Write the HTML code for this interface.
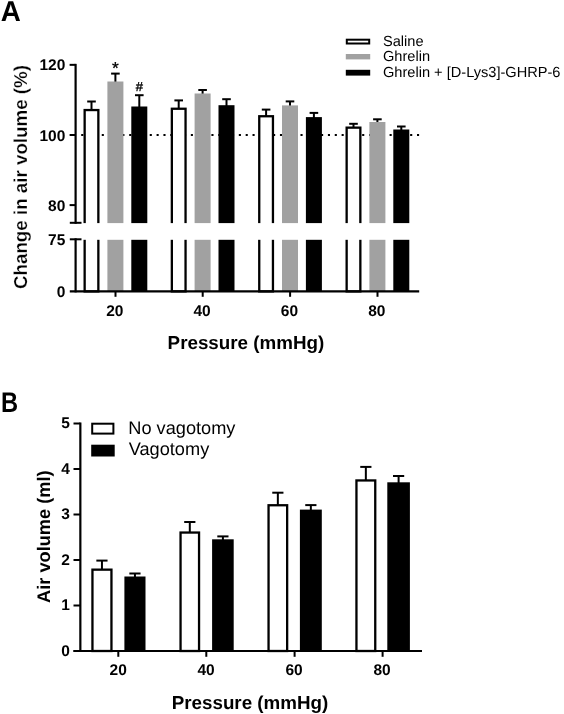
<!DOCTYPE html>
<html><head><meta charset="utf-8"><title>Figure</title>
<style>
html,body{margin:0;padding:0;background:#fff;}
body{width:564px;height:714px;overflow:hidden;font-family:"Liberation Sans",sans-serif;}
svg{display:block;filter:grayscale(1);}
text{text-rendering:geometricPrecision;}
</style></head><body>
<svg width="564" height="714" viewBox="0 0 564 714">
<rect x="0" y="0" width="564" height="714" fill="#fff"/>
<line x1="81.2" y1="135" x2="419.3" y2="135" stroke="#000" stroke-width="2" stroke-dasharray="2.1 4.753"/>
<line x1="91.50" y1="101.50" x2="91.50" y2="109.90" stroke="#000" stroke-width="2"/>
<line x1="87.20" y1="101.50" x2="95.80" y2="101.50" stroke="#000" stroke-width="2"/>
<rect x="84.65" y="110.05" width="13.70" height="181.35" fill="#fff" stroke="#000" stroke-width="2.3"/>
<line x1="115.40" y1="73.60" x2="115.40" y2="82.50" stroke="#000" stroke-width="2"/>
<line x1="111.10" y1="73.60" x2="119.70" y2="73.60" stroke="#000" stroke-width="2"/>
<rect x="107.40" y="81.50" width="16.00" height="209.90" fill="#a1a1a1"/>
<line x1="139.30" y1="95.20" x2="139.30" y2="107.50" stroke="#000" stroke-width="2"/>
<line x1="135.00" y1="95.20" x2="143.60" y2="95.20" stroke="#000" stroke-width="2"/>
<rect x="131.30" y="106.50" width="16.00" height="184.90" fill="#000"/>
<line x1="178.70" y1="100.40" x2="178.70" y2="108.60" stroke="#000" stroke-width="2"/>
<line x1="174.40" y1="100.40" x2="183.00" y2="100.40" stroke="#000" stroke-width="2"/>
<rect x="171.85" y="108.75" width="13.70" height="182.65" fill="#fff" stroke="#000" stroke-width="2.3"/>
<line x1="202.60" y1="90.00" x2="202.60" y2="94.50" stroke="#000" stroke-width="2"/>
<line x1="198.30" y1="90.00" x2="206.90" y2="90.00" stroke="#000" stroke-width="2"/>
<rect x="194.60" y="93.50" width="16.00" height="197.90" fill="#a1a1a1"/>
<line x1="226.50" y1="99.20" x2="226.50" y2="106.20" stroke="#000" stroke-width="2"/>
<line x1="222.20" y1="99.20" x2="230.80" y2="99.20" stroke="#000" stroke-width="2"/>
<rect x="218.50" y="105.20" width="16.00" height="186.20" fill="#000"/>
<line x1="266.10" y1="109.60" x2="266.10" y2="116.10" stroke="#000" stroke-width="2"/>
<line x1="261.80" y1="109.60" x2="270.40" y2="109.60" stroke="#000" stroke-width="2"/>
<rect x="259.25" y="116.25" width="13.70" height="175.15" fill="#fff" stroke="#000" stroke-width="2.3"/>
<line x1="290.00" y1="101.40" x2="290.00" y2="106.40" stroke="#000" stroke-width="2"/>
<line x1="285.70" y1="101.40" x2="294.30" y2="101.40" stroke="#000" stroke-width="2"/>
<rect x="282.00" y="105.40" width="16.00" height="186.00" fill="#a1a1a1"/>
<line x1="313.90" y1="112.90" x2="313.90" y2="118.10" stroke="#000" stroke-width="2"/>
<line x1="309.60" y1="112.90" x2="318.20" y2="112.90" stroke="#000" stroke-width="2"/>
<rect x="305.90" y="117.10" width="16.00" height="174.30" fill="#000"/>
<line x1="353.50" y1="123.80" x2="353.50" y2="127.50" stroke="#000" stroke-width="2"/>
<line x1="349.20" y1="123.80" x2="357.80" y2="123.80" stroke="#000" stroke-width="2"/>
<rect x="346.65" y="127.65" width="13.70" height="163.75" fill="#fff" stroke="#000" stroke-width="2.3"/>
<line x1="377.40" y1="119.30" x2="377.40" y2="123.00" stroke="#000" stroke-width="2"/>
<line x1="373.10" y1="119.30" x2="381.70" y2="119.30" stroke="#000" stroke-width="2"/>
<rect x="369.40" y="122.00" width="16.00" height="169.40" fill="#a1a1a1"/>
<line x1="401.30" y1="126.50" x2="401.30" y2="130.50" stroke="#000" stroke-width="2"/>
<line x1="397.00" y1="126.50" x2="405.60" y2="126.50" stroke="#000" stroke-width="2"/>
<rect x="393.30" y="129.50" width="16.00" height="161.90" fill="#000"/>
<rect x="66" y="223.10" width="360" height="16.70" fill="#fff"/>
<line x1="75.6" y1="63.85" x2="75.6" y2="223.8" stroke="#000" stroke-width="2.2"/>
<line x1="75.6" y1="238.3" x2="75.6" y2="292.4" stroke="#000" stroke-width="2.2"/>
<line x1="69.8" y1="222.8" x2="81.5" y2="222.8" stroke="#000" stroke-width="2"/>
<line x1="69.8" y1="239.3" x2="81.5" y2="239.3" stroke="#000" stroke-width="2"/>
<line x1="69.8" y1="291.4" x2="419.2" y2="291.4" stroke="#000" stroke-width="2.2"/>
<line x1="69.6" y1="64.85" x2="75.6" y2="64.85" stroke="#000" stroke-width="2"/>
<line x1="69.6" y1="135.0" x2="75.6" y2="135.0" stroke="#000" stroke-width="2"/>
<line x1="69.6" y1="205.1" x2="75.6" y2="205.1" stroke="#000" stroke-width="2"/>
<text x="65.3" y="70.10" text-anchor="end" font-family="Liberation Sans, sans-serif" font-weight="bold" font-size="15.5">120</text>
<text x="65.3" y="140.50" text-anchor="end" font-family="Liberation Sans, sans-serif" font-weight="bold" font-size="15.5">100</text>
<text x="65.3" y="210.60" text-anchor="end" font-family="Liberation Sans, sans-serif" font-weight="bold" font-size="15.5">80</text>
<text x="65.3" y="244.80" text-anchor="end" font-family="Liberation Sans, sans-serif" font-weight="bold" font-size="15.5">75</text>
<text x="65.3" y="296.90" text-anchor="end" font-family="Liberation Sans, sans-serif" font-weight="bold" font-size="15.5">0</text>
<line x1="115.50" y1="291.4" x2="115.50" y2="296.8" stroke="#000" stroke-width="2"/>
<text x="114.80" y="315.8" text-anchor="middle" font-family="Liberation Sans, sans-serif" font-weight="bold" font-size="15.5">20</text>
<line x1="202.70" y1="291.4" x2="202.70" y2="296.8" stroke="#000" stroke-width="2"/>
<text x="202.00" y="315.8" text-anchor="middle" font-family="Liberation Sans, sans-serif" font-weight="bold" font-size="15.5">40</text>
<line x1="290.10" y1="291.4" x2="290.10" y2="296.8" stroke="#000" stroke-width="2"/>
<text x="289.40" y="315.8" text-anchor="middle" font-family="Liberation Sans, sans-serif" font-weight="bold" font-size="15.5">60</text>
<line x1="377.50" y1="291.4" x2="377.50" y2="296.8" stroke="#000" stroke-width="2"/>
<text x="376.80" y="315.8" text-anchor="middle" font-family="Liberation Sans, sans-serif" font-weight="bold" font-size="15.5">80</text>
<text x="245.9" y="348.6" text-anchor="middle" font-family="Liberation Sans, sans-serif" font-weight="bold" font-size="18.8">Pressure (mmHg)</text>
<text transform="translate(27.3,177.0) rotate(-90)" text-anchor="middle" font-family="Liberation Sans, sans-serif" font-weight="bold" font-size="18.75" stroke="#fff" stroke-width="0.25">Change in air volume (%)</text>
<text transform="translate(0.8,20.7) scale(0.965,1)" font-family="Liberation Sans, sans-serif" font-weight="bold" font-size="28.8">A</text>
<text x="115.45" y="74.0" text-anchor="middle" font-family="Liberation Sans, sans-serif" font-size="17.4" stroke="#000" stroke-width="0.3">*</text>
<text x="139.4" y="90.8" text-anchor="middle" font-family="Liberation Sans, sans-serif" font-size="13" stroke="#000" stroke-width="0.35">#</text>
<rect x="346.8" y="39.7" width="22.4" height="3.8" fill="#fff" stroke="#000" stroke-width="2"/>
<rect x="345.8" y="54" width="24.4" height="5.4" fill="#a1a1a1"/>
<rect x="345.8" y="69.8" width="24.4" height="5.8" fill="#000"/>
<text x="383" y="45.80" font-family="Liberation Sans, sans-serif" font-size="14.6">Saline</text>
<text x="383" y="61.40" font-family="Liberation Sans, sans-serif" font-size="14.6">Ghrelin</text>
<text x="383" y="77.00" font-family="Liberation Sans, sans-serif" font-size="14.6">Ghrelin + [D-Lys3]-GHRP-6</text>
<line x1="101.95" y1="560.60" x2="101.95" y2="569.50" stroke="#000" stroke-width="2"/>
<line x1="96.35" y1="560.60" x2="107.55" y2="560.60" stroke="#000" stroke-width="2"/>
<rect x="92.45" y="569.65" width="19.00" height="81.35" fill="#fff" stroke="#000" stroke-width="2.3"/>
<line x1="189.80" y1="522.00" x2="189.80" y2="532.40" stroke="#000" stroke-width="2"/>
<line x1="184.20" y1="522.00" x2="195.40" y2="522.00" stroke="#000" stroke-width="2"/>
<rect x="180.55" y="532.55" width="18.50" height="118.45" fill="#fff" stroke="#000" stroke-width="2.3"/>
<line x1="277.85" y1="492.70" x2="277.85" y2="505.10" stroke="#000" stroke-width="2"/>
<line x1="272.25" y1="492.70" x2="283.45" y2="492.70" stroke="#000" stroke-width="2"/>
<rect x="268.55" y="505.25" width="18.60" height="145.75" fill="#fff" stroke="#000" stroke-width="2.3"/>
<line x1="365.85" y1="466.90" x2="365.85" y2="480.30" stroke="#000" stroke-width="2"/>
<line x1="360.25" y1="466.90" x2="371.45" y2="466.90" stroke="#000" stroke-width="2"/>
<rect x="356.45" y="480.45" width="18.80" height="170.55" fill="#fff" stroke="#000" stroke-width="2.3"/>
<line x1="134.95" y1="573.50" x2="134.95" y2="577.50" stroke="#000" stroke-width="2"/>
<line x1="129.35" y1="573.50" x2="140.55" y2="573.50" stroke="#000" stroke-width="2"/>
<rect x="124.40" y="576.50" width="21.10" height="74.50" fill="#000"/>
<line x1="222.90" y1="536.40" x2="222.90" y2="540.30" stroke="#000" stroke-width="2"/>
<line x1="217.30" y1="536.40" x2="228.50" y2="536.40" stroke="#000" stroke-width="2"/>
<rect x="212.10" y="539.30" width="21.60" height="111.70" fill="#000"/>
<line x1="310.85" y1="505.10" x2="310.85" y2="510.60" stroke="#000" stroke-width="2"/>
<line x1="305.25" y1="505.10" x2="316.45" y2="505.10" stroke="#000" stroke-width="2"/>
<rect x="299.90" y="509.60" width="21.90" height="141.40" fill="#000"/>
<line x1="398.60" y1="476.00" x2="398.60" y2="483.30" stroke="#000" stroke-width="2"/>
<line x1="393.00" y1="476.00" x2="404.20" y2="476.00" stroke="#000" stroke-width="2"/>
<rect x="387.30" y="482.30" width="22.60" height="168.70" fill="#000"/>
<line x1="80.35" y1="422.5" x2="80.35" y2="652.0" stroke="#000" stroke-width="2.2"/>
<line x1="73.5" y1="651.0" x2="422" y2="651.0" stroke="#000" stroke-width="2.2"/>
<line x1="73.5" y1="651.00" x2="80.35" y2="651.00" stroke="#000" stroke-width="2"/>
<text x="69.9" y="655.70" text-anchor="end" font-family="Liberation Sans, sans-serif" font-weight="bold" font-size="15.5">0</text>
<line x1="73.5" y1="605.50" x2="80.35" y2="605.50" stroke="#000" stroke-width="2"/>
<text x="69.9" y="610.20" text-anchor="end" font-family="Liberation Sans, sans-serif" font-weight="bold" font-size="15.5">1</text>
<line x1="73.5" y1="560.00" x2="80.35" y2="560.00" stroke="#000" stroke-width="2"/>
<text x="69.9" y="564.70" text-anchor="end" font-family="Liberation Sans, sans-serif" font-weight="bold" font-size="15.5">2</text>
<line x1="73.5" y1="514.50" x2="80.35" y2="514.50" stroke="#000" stroke-width="2"/>
<text x="69.9" y="519.20" text-anchor="end" font-family="Liberation Sans, sans-serif" font-weight="bold" font-size="15.5">3</text>
<line x1="73.5" y1="469.00" x2="80.35" y2="469.00" stroke="#000" stroke-width="2"/>
<text x="69.9" y="473.70" text-anchor="end" font-family="Liberation Sans, sans-serif" font-weight="bold" font-size="15.5">4</text>
<line x1="73.5" y1="423.50" x2="80.35" y2="423.50" stroke="#000" stroke-width="2"/>
<text x="69.9" y="428.20" text-anchor="end" font-family="Liberation Sans, sans-serif" font-weight="bold" font-size="15.5">5</text>
<line x1="118.3" y1="651.0" x2="118.3" y2="656.8" stroke="#000" stroke-width="2"/>
<text x="118.2" y="675.3" text-anchor="middle" font-family="Liberation Sans, sans-serif" font-weight="bold" font-size="15.5">20</text>
<line x1="206.3" y1="651.0" x2="206.3" y2="656.8" stroke="#000" stroke-width="2"/>
<text x="206.0" y="675.3" text-anchor="middle" font-family="Liberation Sans, sans-serif" font-weight="bold" font-size="15.5">40</text>
<line x1="294.6" y1="651.0" x2="294.6" y2="656.8" stroke="#000" stroke-width="2"/>
<text x="294.1" y="675.3" text-anchor="middle" font-family="Liberation Sans, sans-serif" font-weight="bold" font-size="15.5">60</text>
<line x1="382.6" y1="651.0" x2="382.6" y2="656.8" stroke="#000" stroke-width="2"/>
<text x="382.0" y="675.3" text-anchor="middle" font-family="Liberation Sans, sans-serif" font-weight="bold" font-size="15.5">80</text>
<text x="250" y="708.7" text-anchor="middle" font-family="Liberation Sans, sans-serif" font-weight="bold" font-size="18.8">Pressure (mmHg)</text>
<text transform="translate(50.2,536.7) rotate(-90)" text-anchor="middle" font-family="Liberation Sans, sans-serif" font-weight="bold" font-size="18.2">Air volume (ml)</text>
<text transform="translate(1.1,411.9) scale(0.83,1)" font-family="Liberation Sans, sans-serif" font-weight="bold" font-size="28.5">B</text>
<rect x="92.2" y="423.7" width="21.2" height="9.9" fill="#fff" stroke="#000" stroke-width="2"/>
<rect x="91.2" y="444.7" width="23.5" height="11.8" fill="#000"/>
<text x="128.3" y="434.0" font-family="Liberation Sans, sans-serif" font-size="18.2">No vagotomy</text>
<text x="128.7" y="455.3" font-family="Liberation Sans, sans-serif" font-size="18.2">Vagotomy</text>
</svg>
</body></html>
